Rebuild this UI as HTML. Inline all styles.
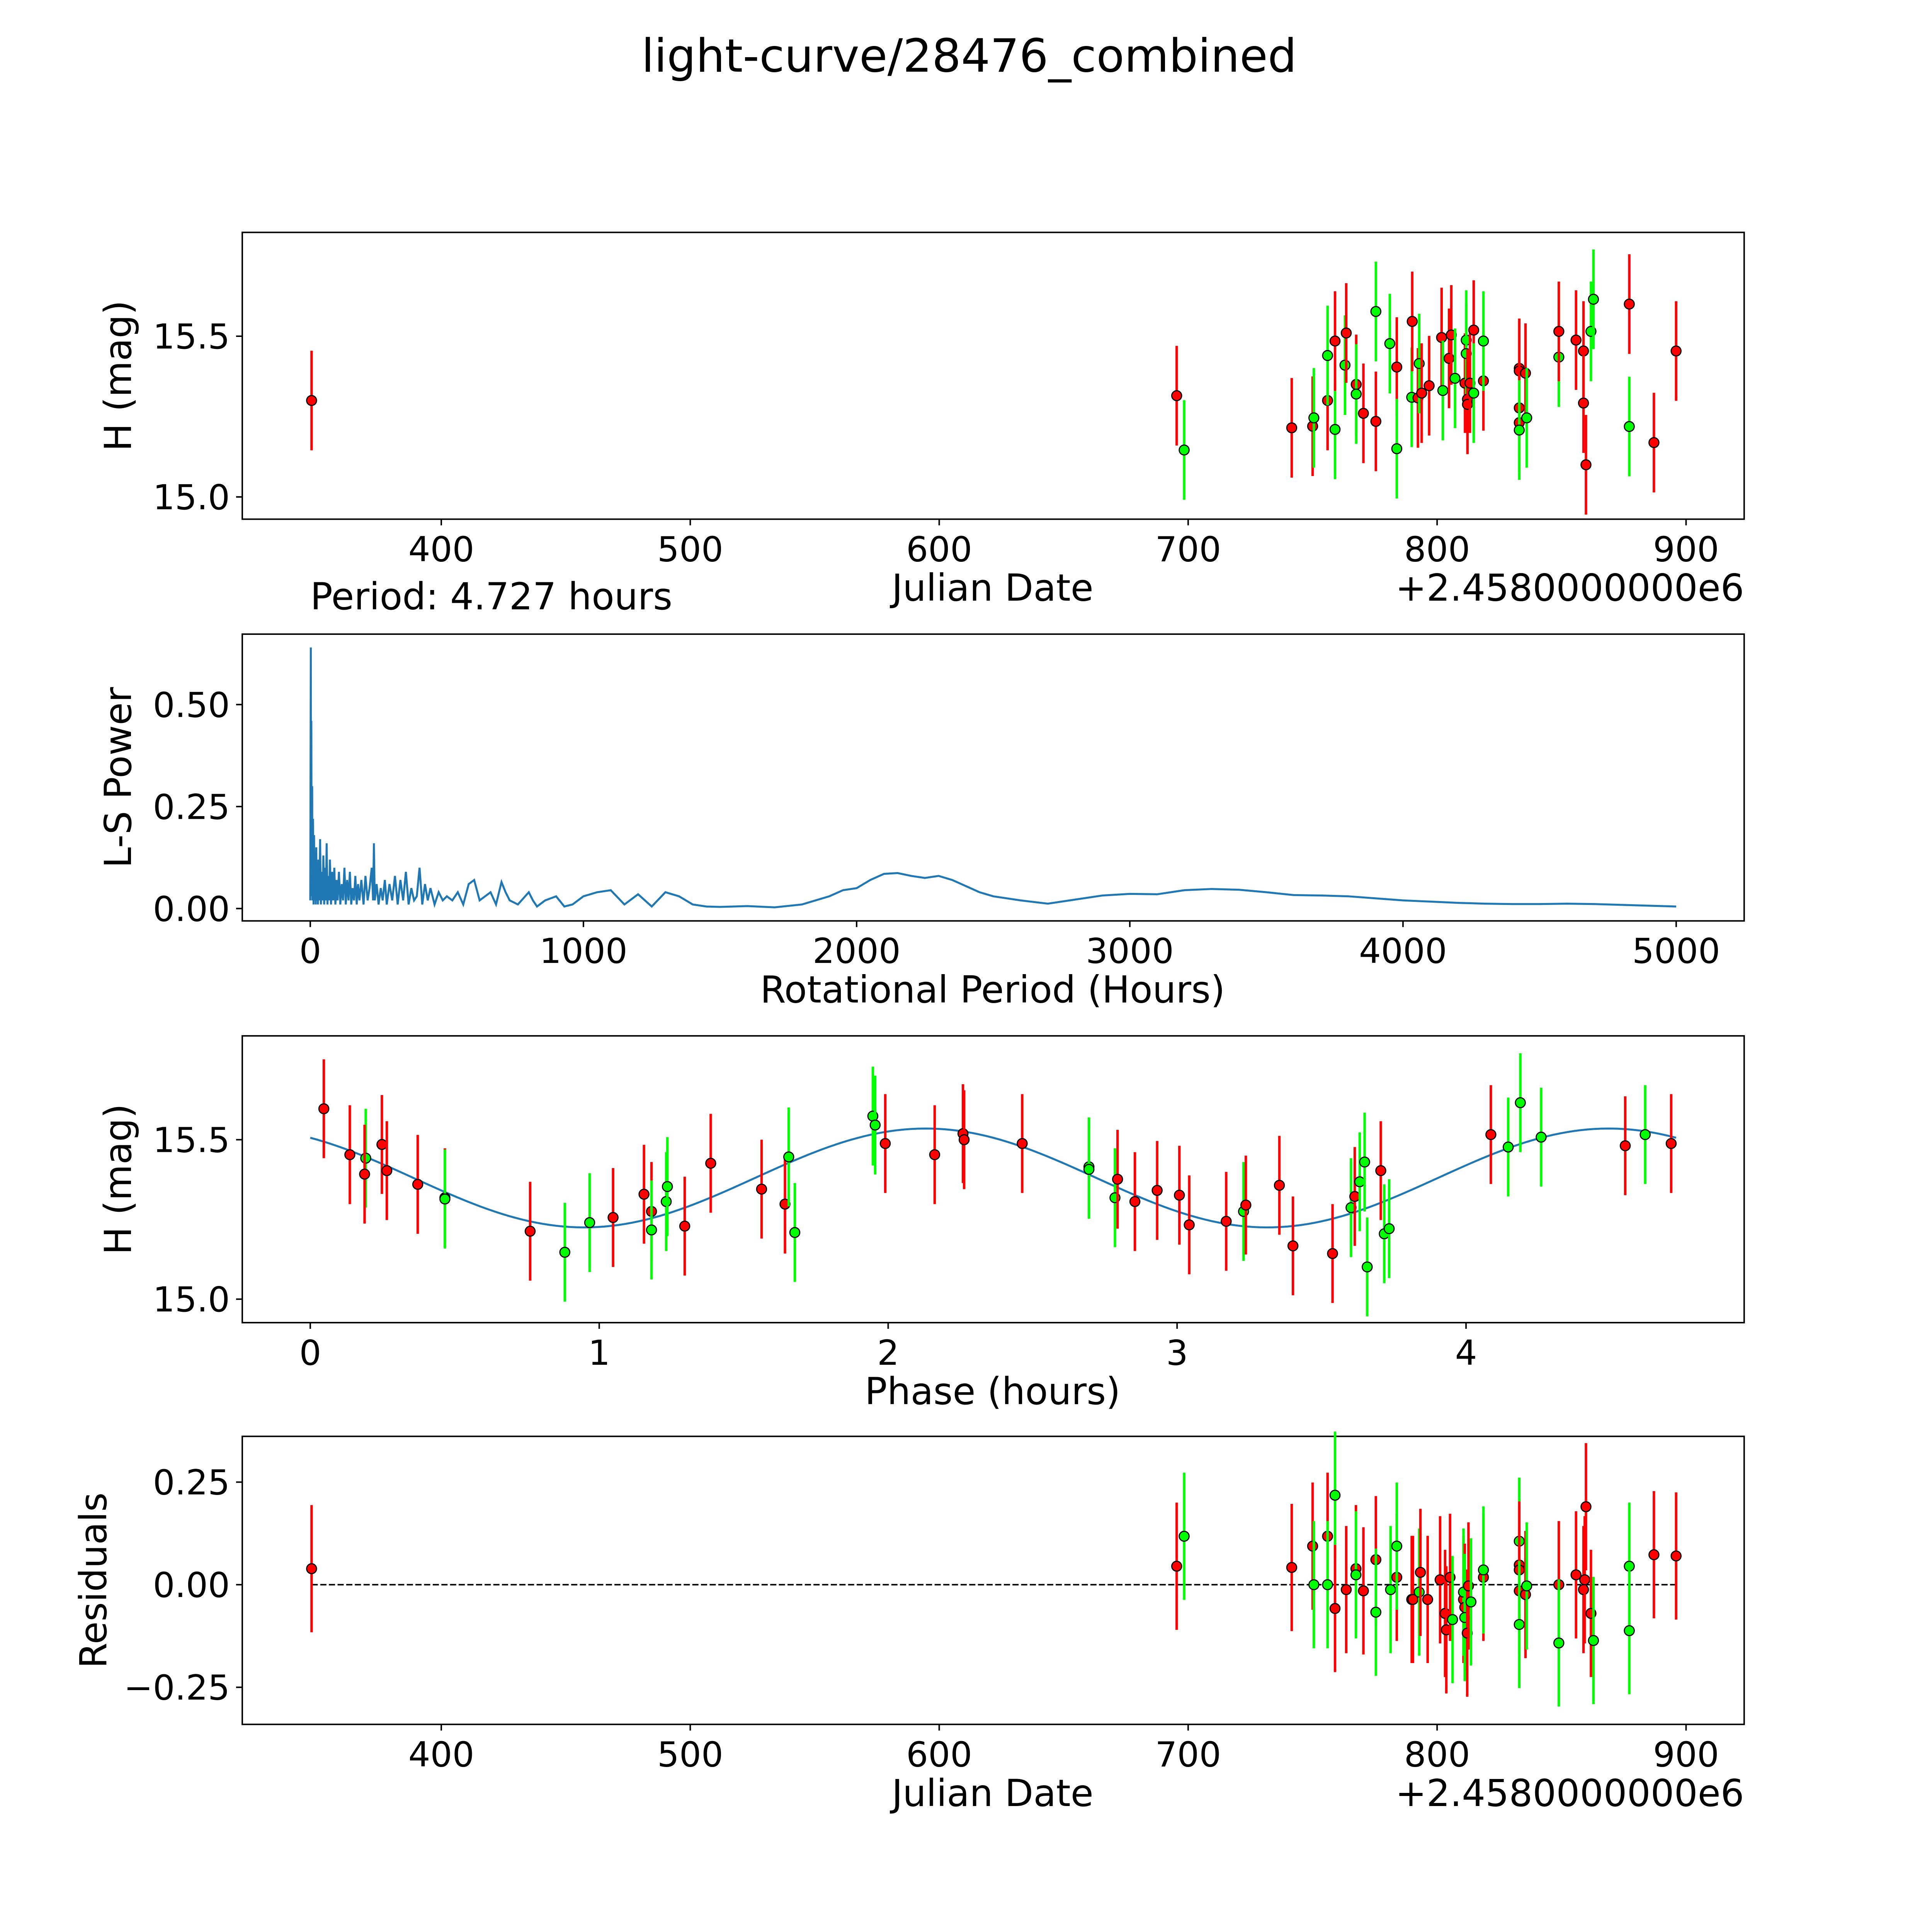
<!DOCTYPE html>
<html><head><meta charset="utf-8"><style>
html,body{margin:0;padding:0;background:#fff;overflow:hidden;width:5400px;height:5400px;}
svg{display:block;}
text{font-family:"DejaVu Sans","Liberation Sans",sans-serif;fill:#000;}
</style></head><body>
<svg id="fig" width="5400" height="5400" viewBox="0 0 1688 1688" xmlns="http://www.w3.org/2000/svg">
<rect width="1688" height="1688" fill="#fff"/>
<text x="784" y="58" font-size="37" text-anchor="middle">light-curve/28476_combined</text>
<g id="g"></g>
</svg>
<script>
// ---------- data ----------
const lcDates = [347.9,695.4,698.4,741.6,750,750.5,756,756,759,759,763,763.5,767.5,767.5,770.4,775.4,775.4,781,783.8,783.8,789.8,790,792.3,792.8,793.8,796.8,801.8,802.3,804.8,805.7,807.2,811.2,811.7,811.7,812.2,812.2,813.2,814.7,814.7,818.6,818.6,833.0,833.0,833.0,833.0,833.0,835.5,836.0,848.9,848.9,855.8,858.8,858.8,859.8,861.8,862.8,877.2,877.2,887.1,896.0];
const lcMags  = [15.30,15.315,15.146,15.215,15.22,15.246,15.30,15.44,15.21,15.485,15.41,15.51,15.35,15.32,15.26,15.235,15.577,15.477,15.404,15.15,15.31,15.546,15.308,15.415,15.323,15.346,15.496,15.331,15.431,15.504,15.369,15.354,15.488,15.446,15.304,15.288,15.354,15.519,15.323,15.361,15.485,15.4,15.392,15.277,15.231,15.208,15.385,15.246,15.435,15.515,15.488,15.454,15.292,15.1,15.515,15.615,15.6,15.219,15.169,15.454];
const lcColors = "rrgrrgrggrgrrgrrggrggrrgrrrgrrgrggrrrrgrgrrrrgrggrrrrrggrgrr".split("");
const lsPeriods = [0,2,3,4,5,7,8,10,12,14,16,18,20,22,24,26,28,30,33,36,39,42,45,48,51,54,57,60,63,66,69,72,76,80,84,88,92,96,100,105,110,115,120,125,130,135,140,145,150,155,160,165,170,175,180,187,195,202,210,217,225,230,233,236,243,250,258,265,273,280,290,300,310,320,330,340,350,360,370,380,390,400,410,420,430,440,455,470,485,500,520,540,560,580,600,620,640,660,680,700,715,730,760,800,815,830,860,900,930,960,1000,1050,1100,1150,1200,1250,1300,1350,1400,1450,1500,1600,1700,1800,1900,1950,2000,2050,2100,2150,2200,2250,2300,2350,2400,2450,2500,2600,2700,2800,2900,3000,3100,3200,3300,3400,3500,3600,3700,3800,3900,4000,4100,4200,4300,4400,4500,4600,4700,4800,4900,5000];
const lsPower = [0.02,0.64,0.05,0.46,0.03,0.3,0.02,0.22,0.01,0.18,0.02,0.12,0.01,0.15,0.02,0.1,0.01,0.12,0.02,0.17,0.01,0.09,0.02,0.13,0.01,0.1,0.02,0.16,0.01,0.08,0.02,0.12,0.01,0.09,0.02,0.1,0.01,0.07,0.02,0.09,0.01,0.06,0.02,0.1,0.01,0.07,0.02,0.09,0.01,0.05,0.02,0.08,0.01,0.06,0.02,0.07,0.01,0.08,0.02,0.05,0.1,0.02,0.16,0.02,0.06,0.01,0.05,0.02,0.07,0.01,0.06,0.02,0.08,0.01,0.07,0.02,0.09,0.01,0.05,0.02,0.03,0.1,0.01,0.06,0.02,0.05,0.01,0.04,0.02,0.03,0.02,0.04,0.01,0.06,0.07,0.02,0.03,0.04,0.01,0.065,0.04,0.02,0.01,0.04,0.02,0.005,0.02,0.03,0.005,0.01,0.03,0.04,0.045,0.01,0.035,0.005,0.04,0.03,0.01,0.005,0.004,0.006,0.003,0.01,0.03,0.045,0.05,0.07,0.085,0.087,0.08,0.075,0.08,0.07,0.055,0.04,0.03,0.02,0.012,0.022,0.032,0.036,0.035,0.045,0.048,0.046,0.04,0.033,0.032,0.03,0.025,0.02,0.017,0.014,0.012,0.011,0.011,0.012,0.011,0.009,0.007,0.005];
const phPhase = [0.047,0.137,0.192,0.188,0.248,0.265,0.372,0.466,0.466,0.761,0.881,0.967,1.048,1.155,1.181,1.181,1.232,1.236,1.296,1.386,1.562,1.643,1.656,1.677,1.947,1.955,1.99,2.161,2.259,2.263,2.464,2.695,2.695,2.785,2.794,2.854,2.931,3.008,3.042,3.17,3.23,3.238,3.354,3.401,3.538,3.602,3.615,3.632,3.649,3.658,3.705,3.717,3.734,4.086,4.146,4.188,4.26,4.551,4.62,4.71];
const phMags = [15.597,15.453,15.442,15.392,15.485,15.403,15.36,15.318,15.314,15.213,15.147,15.24,15.256,15.329,15.275,15.217,15.306,15.353,15.229,15.426,15.345,15.298,15.446,15.209,15.574,15.546,15.488,15.453,15.519,15.5,15.488,15.415,15.407,15.318,15.376,15.306,15.341,15.326,15.233,15.244,15.275,15.295,15.357,15.167,15.143,15.287,15.322,15.368,15.43,15.101,15.403,15.205,15.221,15.516,15.477,15.616,15.508,15.481,15.516,15.488];
const phColors = "rrgrrrrrgrggrrrgggrrrrggggrrrrrgggrrrrrrgrrrrgrgggrggrgggrgrr".split("");
const resDates = [347.9,695.4,698.4,741.6,750.0,750.5,756.0,756.0,759.0,759.0,763.5,767.4,767.4,770.4,775.4,775.4,781.3,783.8,783.8,789.8,790.3,792.8,793.3,796.2,801.2,803.2,803.7,805.2,806.2,810.6,810.6,811.1,811.1,812.1,812.6,813.6,818.6,818.6,833.0,833.0,833.0,833.0,833.0,835.5,836.0,848.9,848.9,855.8,858.8,859.3,859.8,861.8,862.8,877.2,877.2,887.1,896.0];
const resVals = [0.039,0.045,0.118,0.042,0.094,0,0.118,0,0.218,-0.058,-0.012,0.039,0.024,-0.015,0.061,-0.067,-0.012,0.018,0.094,-0.036,-0.036,-0.018,0.03,-0.036,0.012,-0.07,-0.11,0.018,-0.085,-0.036,-0.018,-0.055,-0.08,-0.118,-0.003,-0.042,0.018,0.036,0.106,0.048,0.036,-0.015,-0.097,-0.024,-0.003,0.0,-0.142,0.024,-0.012,0.012,0.19,-0.07,-0.136,0.045,-0.112,0.073,0.07];
const resColors = "rrgrrgrggrrrgrrggrgrrgrrrrrrgrgrgrrgrggrrrgrgrgrrrrrgggrrr".split("");
const periodLabel = "Period: 4.727 hours";
const fitMean = 15.38, fitAmp = 0.155, fitPeak = 2.13, fitHalfPeriod = 2.3635, fitMax = 4.727;

// ---------- drawing ----------
const NS = "http://www.w3.org/2000/svg";
const G = document.getElementById('g');
function el(tag, attrs, parent){ const e=document.createElementNS(NS,tag); for(const k in attrs) e.setAttribute(k,attrs[k]); (parent||G).appendChild(e); return e; }
function txt(s, attrs, name){ const t=el('text',attrs); t.textContent=s;
  
  
  return t; }
const COL = {r:'#ff0000', g:'#00ff00'};
const PL=196, PR=1411;
const TF=28, LF=30;
function lin(d0,d1,p0,p1){ return v=>p0+(v-d0)*(p1-p0)/(d1-d0); }
function frame(top,bot,name){
  const r=el('rect',{x:PL,y:top,width:PR-PL,height:bot-top,fill:'none',stroke:'#000','stroke-width':1.2});
  
  
}
function xticks(vals,sx,bot,name){ vals.forEach(v=>{ const x=sx(v);
  el('line',{x1:x,x2:x,y1:bot,y2:bot+5,stroke:'#000','stroke-width':1.2});
  txt(String(v),{x:x,y:bot+34,'font-size':TF,'text-anchor':'middle'}, name); }); }
function yticks(vals,labels,sy,name){ vals.forEach((v,i)=>{ const y=sy(v);
  el('line',{x1:PL-5,x2:PL,y1:y,y2:y,stroke:'#000','stroke-width':1.2});
  txt(labels[i],{x:PL-10,y:y+10,'font-size':TF,'text-anchor':'end'}, name); }); }
function ylabel(s,top,bot,name,x){ txt(s,{x:0,y:0,'font-size':LF,'text-anchor':'middle',transform:`translate(${x||106},${(top+bot)/2}) rotate(-90)`}, name); }
function point(x,y,e,c,sy,name){
  const l=el('line',{x1:x,x2:x,y1:sy(y-e),y2:sy(y+e),stroke:COL[c]||COL.r,'stroke-width':2});
  
  
  const p=el('circle',{cx:x,cy:sy(y),r:4,fill:COL[c]||COL.r,stroke:'#000','stroke-width':0.9});
  
  
}
const negfmt = v => (v<0?'\u2212':'')+Math.abs(v).toFixed(2);

(function(){
  const top=188,bot=420; const sx=lin(400,900,357,1364), sy=lin(15,15.5,402,272);
  frame(top,bot,'light-curve-panel');
  xticks([400,500,600,700,800,900],sx,bot,'x-tick-label');
  yticks([15,15.5],['15.0','15.5'],sy,'y-tick-label');
  ylabel('H (mag)',top,bot,'y-axis-title');
  txt('Julian Date',{x:803,y:486,'font-size':LF,'text-anchor':'middle'},'x-axis-title');
  txt('+2.4580000000e6',{x:1411,y:486,'font-size':LF,'text-anchor':'end'},'x-offset-label');
  lcDates.forEach((d,i)=>point(sx(d),lcMags[i],0.155,lcColors[i],sy,'light-curve-point'));
})();

(function(){
  const top=513,bot=745; const sx=lin(0,5000,251,1356), sy=lin(0,0.5,735,570);
  frame(top,bot,'periodogram-panel');
  xticks([0,1000,2000,3000,4000,5000],sx,bot,'x-tick-label');
  yticks([0,0.25,0.5],['0.00','0.25','0.50'],sy,'y-tick-label');
  ylabel('L-S Power',top,bot,'y-axis-title');
  txt('Rotational Period (Hours)',{x:803,y:811,'font-size':LF,'text-anchor':'middle'},'x-axis-title');
  txt(periodLabel,{x:251,y:493,'font-size':LF},'period-label');
  const d=lsPeriods.map((p,i)=>(i?'L':'M')+sx(p).toFixed(2)+' '+sy(lsPower[i]).toFixed(2)).join(' ');
  const path=el('path',{d:d,fill:'none',stroke:'#1f77b4','stroke-width':1.6});
  
  
})();

(function(){
  const top=838,bot=1070; const sx=lin(0,4,251,1186), sy=lin(15,15.5,1051,922);
  frame(top,bot,'phased-panel');
  xticks([0,1,2,3,4],sx,bot,'x-tick-label');
  yticks([15,15.5],['15.0','15.5'],sy,'y-tick-label');
  ylabel('H (mag)',top,bot,'y-axis-title');
  txt('Phase (hours)',{x:803,y:1136,'font-size':LF,'text-anchor':'middle'},'x-axis-title');
  let d=''; for(let i=0;i<=200;i++){ const p=fitMax*i/200; const m=fitMean+fitAmp*Math.cos(2*Math.PI*(p-fitPeak)/fitHalfPeriod);
    d+=(i?'L':'M')+sx(p).toFixed(2)+' '+sy(m).toFixed(2)+' '; }
  const path=el('path',{d:d,fill:'none',stroke:'#1f77b4','stroke-width':1.6});
  
  
  phPhase.forEach((p,i)=>point(sx(p),phMags[i],0.155,phColors[i],sy,'phased-point'));
})();

(function(){
  const top=1162,bot=1395; const sx=lin(400,900,357,1364), sy=lin(0,0.25,1282,1199);
  frame(top,bot,'residuals-panel');
  xticks([400,500,600,700,800,900],sx,bot,'x-tick-label');
  yticks([-0.25,0,0.25],[-0.25,0,0.25].map(negfmt),sy,'y-tick-label');
  ylabel('Residuals',top,bot,'y-axis-title',86);
  txt('Julian Date',{x:803,y:1461,'font-size':LF,'text-anchor':'middle'},'x-axis-title');
  txt('+2.4580000000e6',{x:1411,y:1461,'font-size':LF,'text-anchor':'end'},'x-offset-label');
  const z=el('line',{x1:sx(resDates[0]),x2:sx(897),y1:sy(0),y2:sy(0),stroke:'#000','stroke-width':1.2,'stroke-dasharray':'5 2'});
  
  
  resDates.forEach((d,i)=>point(sx(d),resVals[i],0.155,resColors[i],sy,'residual-point'));
})();
</script>
</body></html>
